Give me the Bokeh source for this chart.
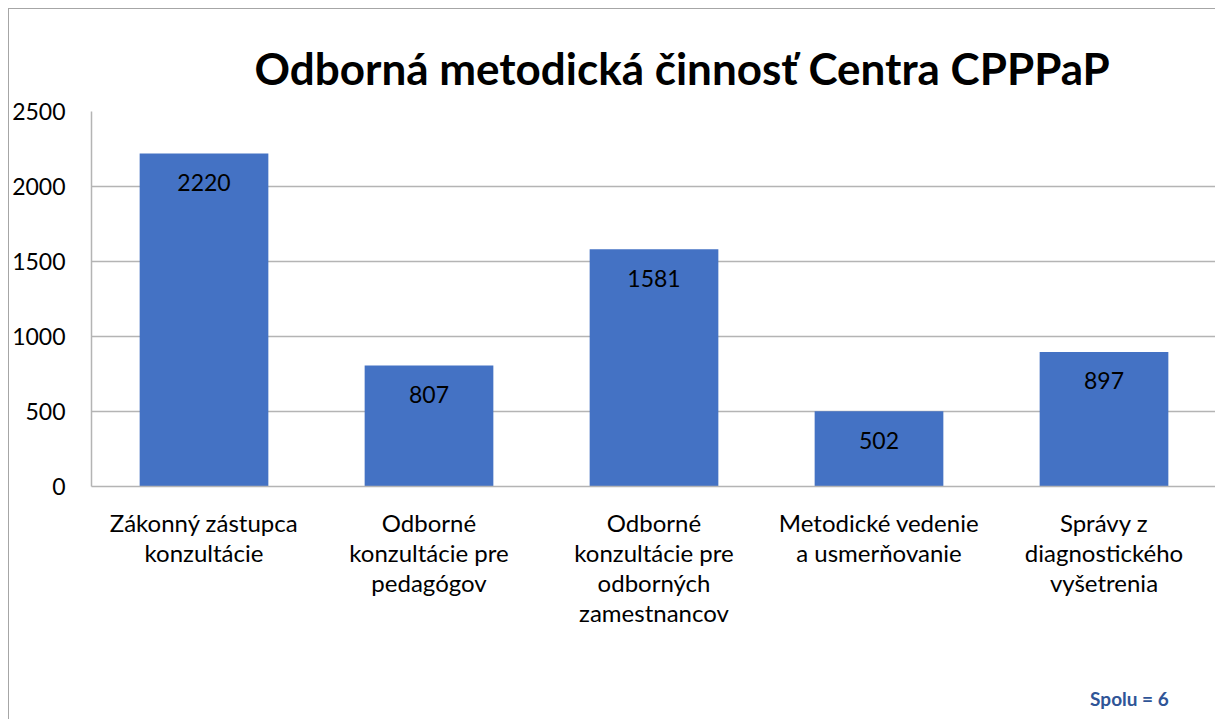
from bokeh.plotting import figure
from bokeh.models import (ColumnDataSource, FixedTicker, Title, FactorRange, CategoricalAxis,
                          CustomJSTickFormatter, LinearAxis)
from bokeh.core.properties import value
from bokeh.embed import file_html
from bokeh.resources import INLINE

categories = [
    "Zákonný zástupca konzultácie",
    "Odborné konzultácie pre pedagógov",
    "Odborné konzultácie pre odborných zamestnancov",
    "Metodické vedenie a usmerňovanie",
    "Správy z diagnostického vyšetrenia",
]
tick_lines = [
    ["Zákonný zástupca", "konzultácie"],
    ["Odborné", "konzultácie pre", "pedagógov"],
    ["Odborné", "konzultácie pre", "odborných", "zamestnancov"],
    ["Metodické vedenie", "a usmerňovanie"],
    ["Správy z", "diagnostického", "vyšetrenia"],
]
counts = [2220, 807, 1581, 502, 897]
y_ticks = [0, 500, 1000, 1500, 2000, 2500]
title_text = "Odborná metodická činnosť Centra CPPPaP"
note_text = "Spolu = 6"

FONT = "Lato"
GRID = "#b4b4b4"

src = ColumnDataSource(dict(cat=categories, val=counts, lab=[str(v) for v in counts]))

p = figure(
    width=1207, height=711,
    x_range=FactorRange(factors=categories),
    y_range=(0, 2500),
    output_backend="svg", toolbar_location=None,
    min_border_left=82, min_border_right=0, min_border_top=102, min_border_bottom=234,
)
p.styles = {
    "margin-left": "8px", "margin-top": "8px",
    "border-left": "1px solid #a6a6a6", "border-top": "1px solid #a6a6a6",
}
p.outline_line_color = None
p.background_fill_color = "white"
p.border_fill_color = "white"

p.title = Title(text=title_text, align="left", offset=163,
                text_font=FONT, text_font_size="44px", text_font_style="bold",
                text_color="black", standoff=35)

p.vbar(x="cat", top="val", width=0.572, source=src, fill_color="#4472C4", line_color=None)
p.text(x="cat", y="val", text="lab", source=src, y_offset=29,
       text_align="center", text_baseline="middle",
       text_font=value(FONT), text_font_size="23px", text_color="black")

p.yaxis.ticker = FixedTicker(ticks=y_ticks)
p.yaxis.major_label_text_font = FONT
p.yaxis.major_label_text_font_size = "23px"
p.yaxis.major_label_text_color = "black"
p.yaxis.major_label_standoff = 26
p.yaxis.major_tick_line_color = None
p.yaxis.major_tick_out = 0
p.yaxis.major_tick_in = 0
p.yaxis.minor_tick_line_color = None
p.yaxis.axis_line_color = GRID
p.yaxis.axis_line_width = 1.5

p.xgrid.grid_line_color = None
p.ygrid.grid_line_color = GRID
p.ygrid.grid_line_width = 1.5


def style_axis(ax, standoff, size="24px"):
    ax.major_label_text_font = FONT
    ax.major_label_text_font_size = size
    ax.major_label_text_color = "black"
    ax.major_label_standoff = standoff
    ax.major_tick_line_color = None
    ax.minor_tick_line_color = None
    ax.major_tick_out = 0
    ax.major_tick_in = 0
    ax.minor_tick_out = 0
    ax.minor_tick_in = 0


# multi-line category labels: one stacked categorical axis per text line
n_lines = max(len(l) for l in tick_lines)
for k in range(n_lines):
    line_k = [(l[k] if k < len(l) else "") for l in tick_lines]
    fmt = CustomJSTickFormatter(
        args=dict(cats=categories, lines=line_k),
        code="const i = cats.indexOf(tick); return i >= 0 ? lines[i] : '';",
    )
    if k == 0:
        ax = p.xaxis[0]
        ax.axis_line_color = GRID
        ax.axis_line_width = 1.5
        style_axis(ax, 21)
    else:
        ax = CategoricalAxis(axis_line_color=None)
        style_axis(ax, -2)
        p.add_layout(ax, "below")
    ax.formatter = fmt

# footnote "Spolu = 6" at the bottom right, as the single label of a helper axis
note_axis = LinearAxis(axis_line_color=None,
                       ticker=FixedTicker(ticks=[4.613], minor_ticks=[]),
                       formatter=CustomJSTickFormatter(args=dict(t=note_text), code="return t;"))
style_axis(note_axis, 57, "19px")
note_axis.major_label_text_font_style = "bold"
note_axis.major_label_text_color = "#2F5597"
p.add_layout(note_axis, "below")

open("out.html", "w").write(file_html(p, INLINE))
